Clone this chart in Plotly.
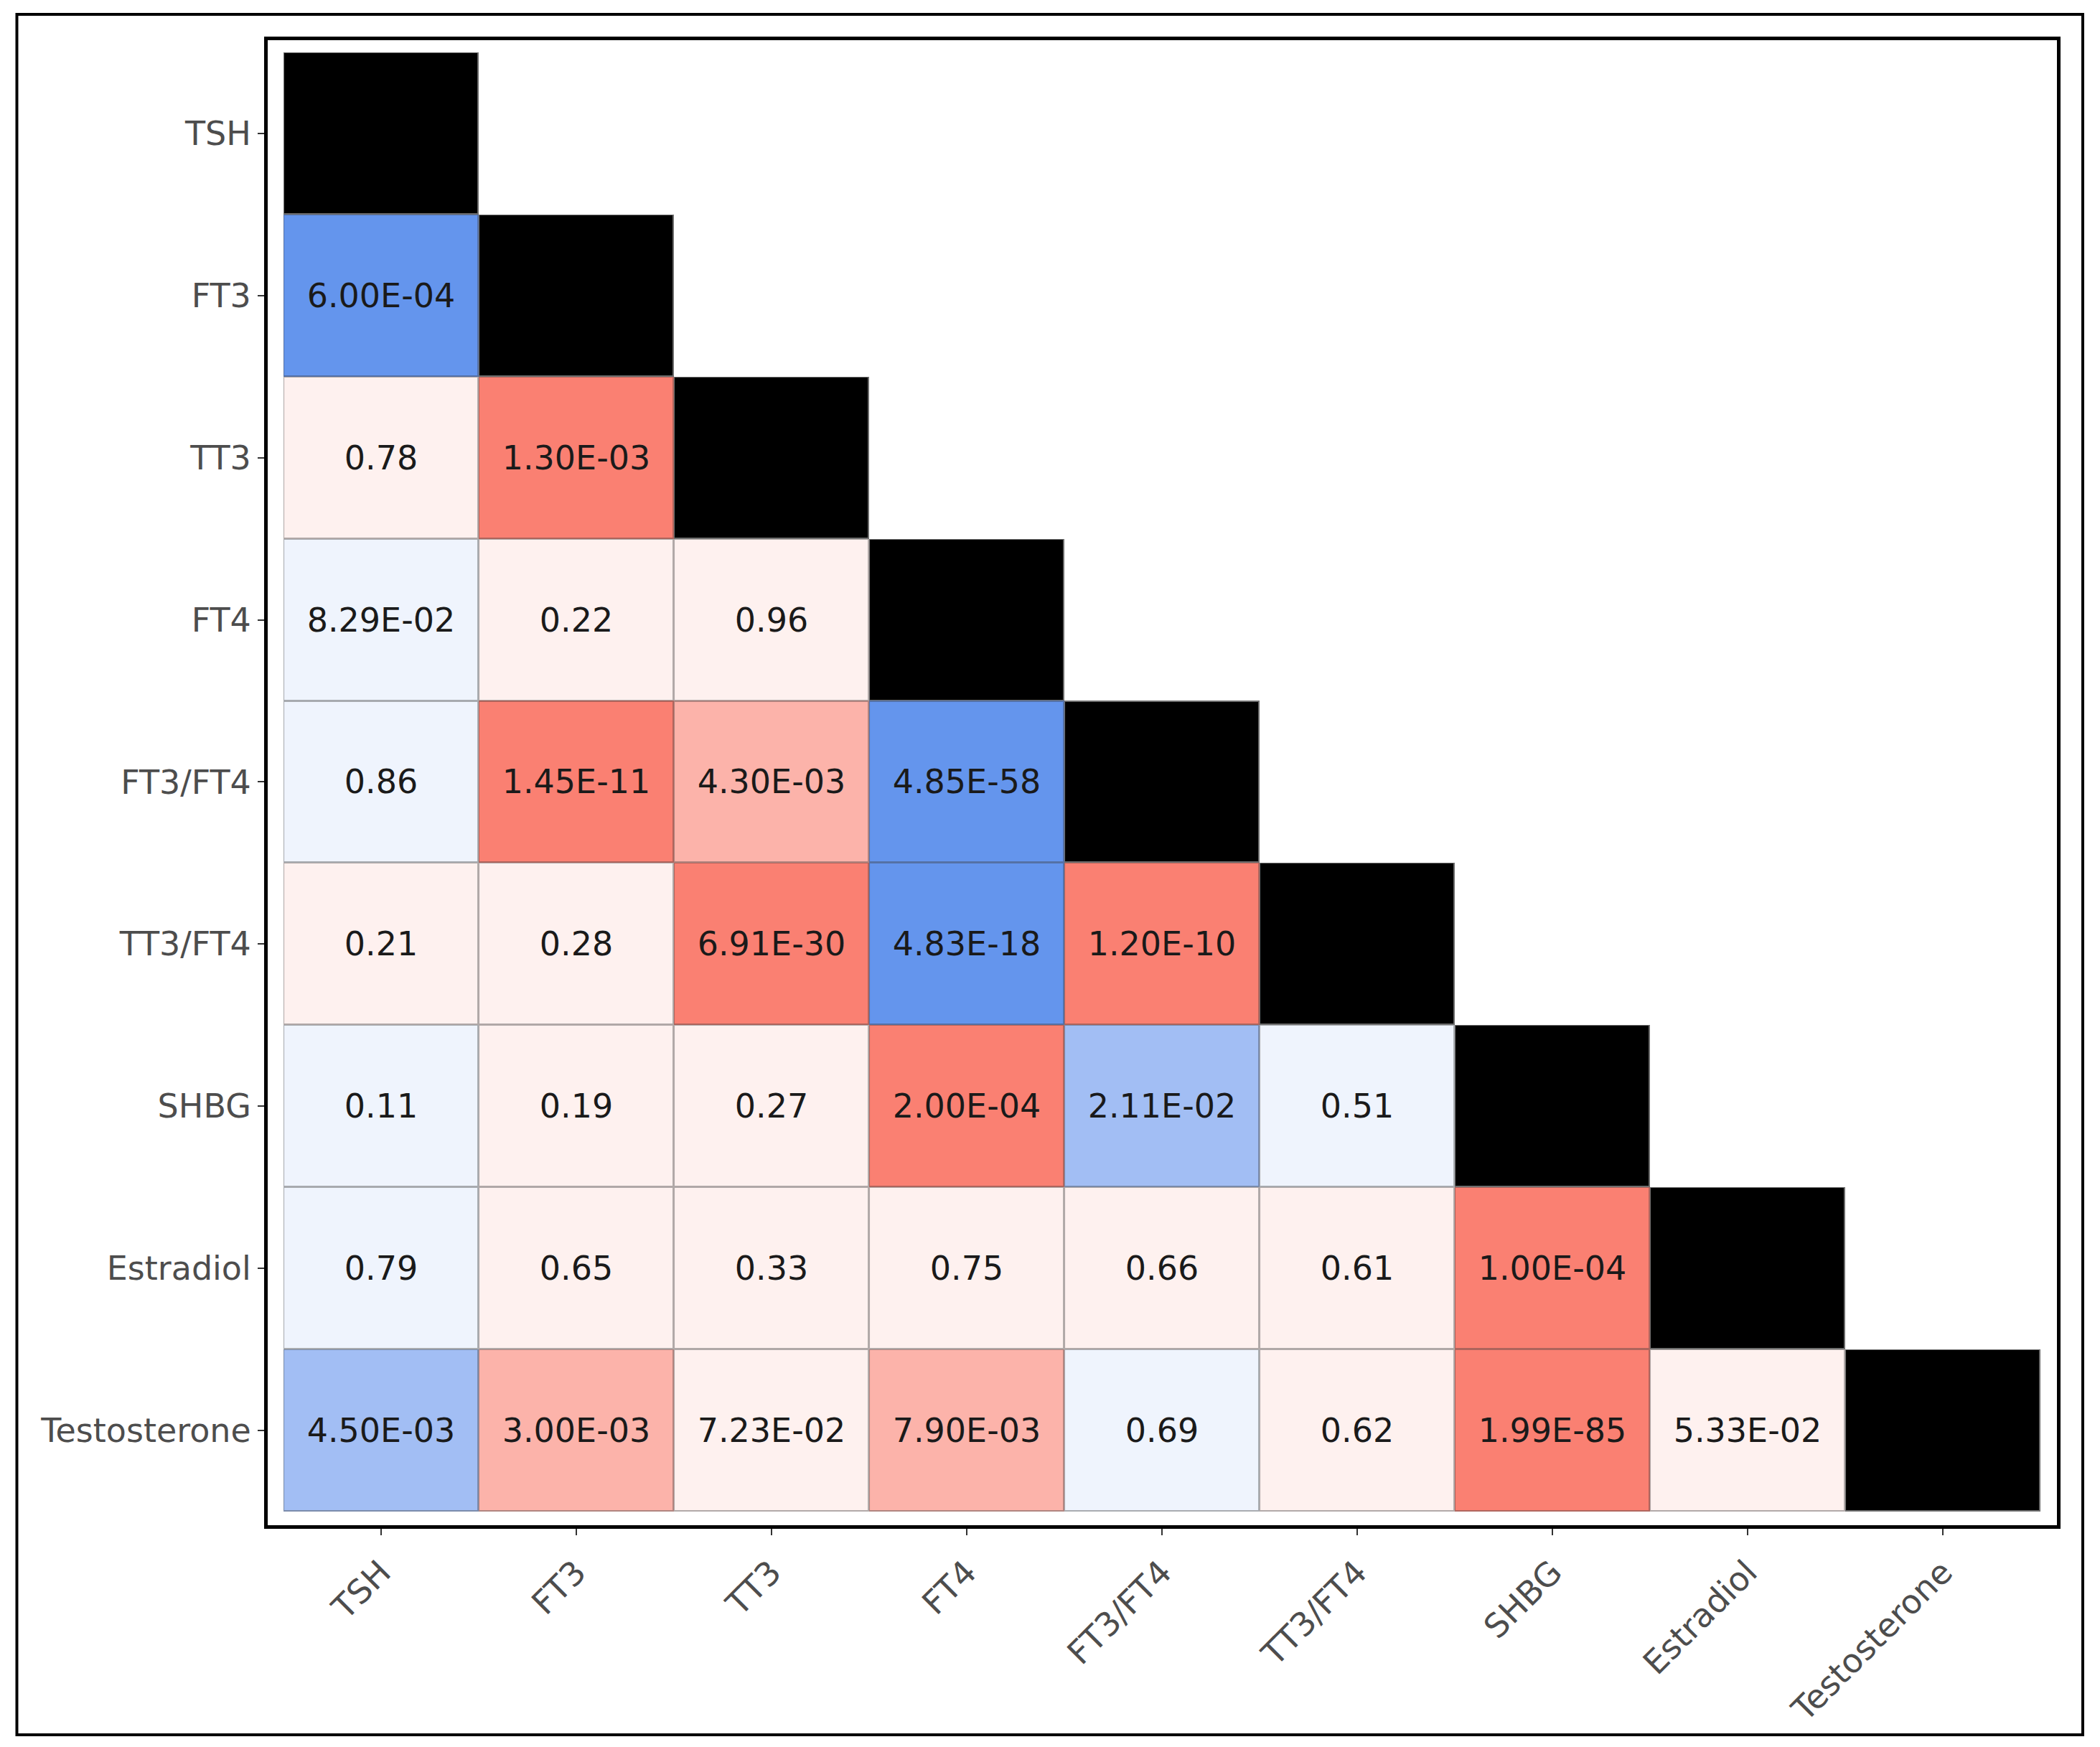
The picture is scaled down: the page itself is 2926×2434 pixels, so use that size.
import plotly.graph_objects as go

variables = ["TSH", "FT3", "TT3", "FT4", "FT3/FT4", "TT3/FT4", "SHBG", "Estradiol", "Testosterone"]

# lower-triangle p-values, row i holds columns 0..i-1 (as printed in the cells)
p_labels = [
    [],
    ["6.00E-04"],
    ["0.78", "1.30E-03"],
    ["8.29E-02", "0.22", "0.96"],
    ["0.86", "1.45E-11", "4.30E-03", "4.85E-58"],
    ["0.21", "0.28", "6.91E-30", "4.83E-18", "1.20E-10"],
    ["0.11", "0.19", "0.27", "2.00E-04", "2.11E-02", "0.51"],
    ["0.79", "0.65", "0.33", "0.75", "0.66", "0.61", "1.00E-04"],
    ["4.50E-03", "3.00E-03", "7.23E-02", "7.90E-03", "0.69", "0.62", "1.99E-85", "5.33E-02"],
]

# direction of association: -1 = negative (blue), +1 = positive (red)
directions = [
    [],
    [-1],
    [1, 1],
    [-1, 1, 1],
    [-1, 1, 1, -1],
    [1, 1, 1, -1, 1],
    [-1, 1, 1, 1, -1, -1],
    [-1, 1, 1, 1, 1, 1, 1],
    [-1, 1, 1, 1, -1, 1, 1, 1],
]

# colour classes: 0 diagonal, 1-3 negative (strong..weak), 4-6 positive (weak..strong)
fill_colors = ["#000000", "#6495ED", "#A2BEF4", "#EFF4FD", "#FEF1EF", "#FCB3AA", "#FA8072"]


def hex_to_rgb(h):
    h = h.lstrip("#")
    return tuple(int(h[i:i + 2], 16) for i in (0, 2, 4))


def border_of(h, k):
    if k == 0:
        return "rgb(110,110,110)"
    r, g, b = hex_to_rgb(h)
    f = 0.6
    return "rgb(%d,%d,%d)" % (r * f + 60 * (1 - f), g * f + 60 * (1 - f), b * f + 60 * (1 - f))


border_colors = [border_of(c, k) for k, c in enumerate(fill_colors)]


def tier(p):
    if p < 0.002:
        return 3
    if p < 0.05:
        return 2
    return 1


n = len(variables)
codes = [[None] * n for _ in range(n)]
texts = [[""] * n for _ in range(n)]
for i in range(n):
    codes[i][i] = 0
    for j in range(i):
        p = float(p_labels[i][j])
        t = tier(p)
        codes[i][j] = (4 - t) if directions[i][j] < 0 else (3 + t)
        texts[i][j] = p_labels[i][j]

fill_scale = [[k / 6, c] for k, c in enumerate(fill_colors)]
border_scale = [[k / 6, c] for k, c in enumerate(border_colors)]

fig = go.Figure()
fig.add_trace(go.Heatmap(
    z=codes, x=variables, y=variables,
    colorscale=border_scale, zmin=0, zmax=6,
    showscale=False, hoverinfo="skip",
))
fig.add_trace(go.Heatmap(
    z=codes, x=variables, y=variables,
    colorscale=fill_scale, zmin=0, zmax=6,
    xgap=3, ygap=3,
    text=texts, texttemplate="%{text}",
    textfont=dict(family="DejaVu Sans", size=46, color="#1a1a1a"),
    showscale=False, hoverinfo="skip",
))

# page has an 8px body margin, so the figure is sized to fit inside the window
W, H = 2910, 2418
L, R, T, B = 365, 52, 48, 301
pw, ph = W - L - R, H - T - B

fig.update_layout(
    width=W, height=H,
    margin=dict(l=L, r=R, t=T, b=B, pad=0, autoexpand=False),
    paper_bgcolor="white", plot_bgcolor="white",
    font=dict(family="DejaVu Sans", size=46, color="#4d4d4d"),
    showlegend=False,
    shapes=[dict(
        type="rect", xref="paper", yref="paper",
        x0=(15.5 - L) / pw, x1=(2894 - L) / pw,
        y0=(H - B - 2409) / ph, y1=(H - B - 12) / ph,
        line=dict(color="black", width=4), fillcolor="rgba(0,0,0,0)",
    )],
)
fig.update_xaxes(
    range=[-0.581, 8.585], showgrid=False, zeroline=False,
    showline=True, linecolor="black", linewidth=5, mirror=True,
    ticks="outside", ticklen=9, tickwidth=2, tickcolor="#333333",
    ticklabelstandoff=6,
    tickangle=-45, tickfont=dict(family="DejaVu Sans", size=46, color="#4d4d4d"),
)
fig.update_yaxes(
    range=[8.584, -0.575], showgrid=False, zeroline=False,
    showline=True, linecolor="black", linewidth=5, mirror=True,
    ticks="outside", ticklen=9, tickwidth=2, tickcolor="#333333",
    ticklabelstandoff=0,
    tickfont=dict(family="DejaVu Sans", size=46, color="#4d4d4d"),
)

fig.write_html("out.html")
